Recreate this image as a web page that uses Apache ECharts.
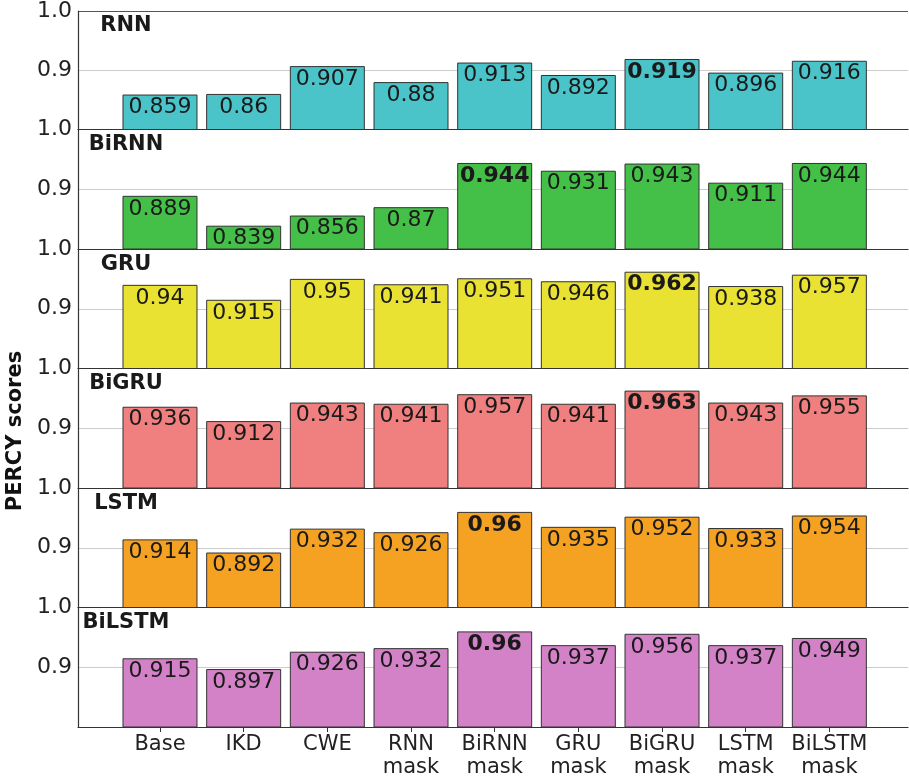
<!DOCTYPE html>
<html><head><meta charset="utf-8">
<script src="https://cdn.jsdelivr.net/npm/echarts@6/dist/echarts.min.js"></script>
<style>html,body{margin:0;padding:0;background:#fff}#c{width:909px;height:779px}</style>
</head><body><div id="c"></div>
<script>
const categories = ['Base','IKD','CWE','RNN\nmask','BiRNN\nmask','GRU\nmask','BiGRU\nmask','LSTM\nmask','BiLSTM\nmask'];
const panelNames = ['RNN','BiRNN','GRU','BiGRU','LSTM','BiLSTM'];
const rnnScores    = [0.859,0.86,0.907,0.88,0.913,0.892,0.919,0.896,0.916];
const birnnScores  = [0.889,0.839,0.856,0.87,0.944,0.931,0.943,0.911,0.944];
const gruScores    = [0.94,0.915,0.95,0.941,0.951,0.946,0.962,0.938,0.957];
const bigruScores  = [0.936,0.912,0.943,0.941,0.957,0.941,0.963,0.943,0.955];
const lstmScores   = [0.914,0.892,0.932,0.926,0.96,0.935,0.952,0.933,0.954];
const bilstmScores = [0.915,0.897,0.926,0.932,0.96,0.937,0.956,0.937,0.949];
const yTicks = [0.8, 0.9, 1.0];
const allScores = [rnnScores,birnnScores,gruScores,bigruScores,lstmScores,bilstmScores];
const colors = ['#4bc4c9','#44bf47','#e9e232','#f08080','#f5a223','#d382c7'];

const FONT = 'DejaVu Sans';
const top0 = 10, ph = 119.5, left = 78, width = 830;
const grids = [], xAxes = [], yAxes = [], series = [], titles = [];
allScores.forEach((vals, i) => {
  const last = i === allScores.length - 1;
  grids.push({left: left, width: width, top: top0 + i*ph, height: ph, containLabel: false});
  xAxes.push({
    type: 'value', gridIndex: i, min: -0.98, max: 8.94,
    splitLine: {show: false},
    axisLine: {show: true, onZero: false, lineStyle: {color: '#333', width: 1.2}},
    axisTick: {show: last, customValues: categories.map((c, k) => k), length: 5, lineStyle: {color: '#333'}},
    axisLabel: {show: last, customValues: categories.map((c, k) => k),
      formatter: v => categories[Math.round(v)] || '',
      fontFamily: FONT, fontSize: 21, color: '#222', lineHeight: 23, margin: 6}
  });
  yAxes.push({
    type: 'value', gridIndex: i, min: yTicks[0], max: yTicks[2], interval: 0.1,
    axisLine: {show: true, onZero: false, lineStyle: {color: '#333', width: 1.2}},
    axisTick: {show: false},
    axisLabel: {showMinLabel: false, fontFamily: FONT, fontSize: 22, color: '#222', margin: 6,
      formatter: v => v.toFixed(1)},
    splitLine: {show: true, lineStyle: {color: i === 0 ? ['#ccc','#ccc','#555'] : ['#ccc','#ccc','rgba(0,0,0,0)'], width: 1.2}}
  });
  const maxIdx = vals.indexOf(Math.max(...vals));
  series.push({
    type: 'bar', xAxisIndex: i, yAxisIndex: i, barWidth: 75,
    data: vals.map((v, k) => ({value: [k, v], label: {fontWeight: k === maxIdx ? 'bold' : 'normal'}})),
    itemStyle: {color: colors[i], borderColor: '#333', borderWidth: 1},
    label: {show: true, position: 'insideTop', distance: 2, fontFamily: FONT, fontSize: 22, color: '#1a1a1a',
      formatter: p => String(p.value[1])},
    silent: true, animation: false
  });
  titles.push({text: panelNames[i], left: 121, textAlign: 'center', top: top0 + i*ph,
    textStyle: {fontFamily: FONT, fontSize: 21, fontWeight: 'bold', color: '#1a1a1a'}});
});

const chart = echarts.init(document.getElementById('c'));
chart.setOption({
  animation: false,
  title: titles,
  grid: grids, xAxis: xAxes, yAxis: yAxes, series: series,
  graphic: [{type: 'text', x: 5, y: 431, rotation: Math.PI/2,
    style: {text: 'PERCY scores', fontFamily: FONT, fontSize: 21, fontWeight: 'bold', fill: '#111', textAlign: 'center', textVerticalAlign: 'top'}}]
});
</script></body></html>
